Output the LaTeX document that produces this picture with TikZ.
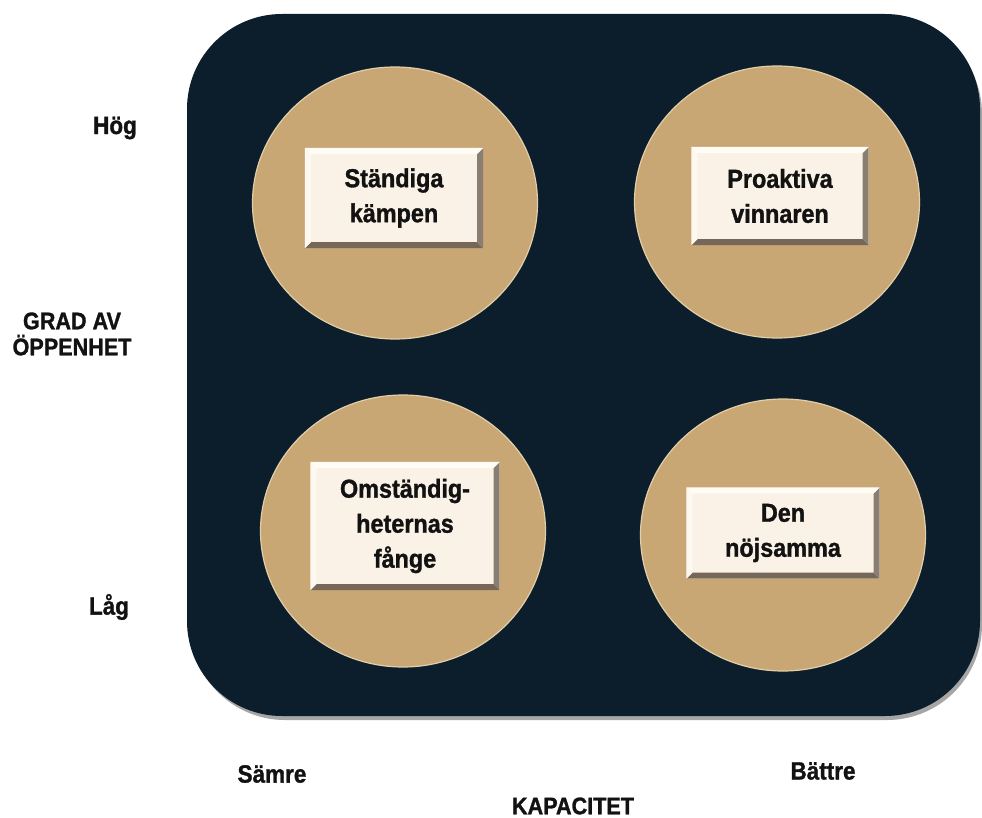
\documentclass[tikz,border=0pt]{standalone}
\usepackage{fontspec}
\setmainfont{Liberation Sans}[FakeStretch=0.9, BoldFeatures={FakeBold=1.2}]
\usetikzlibrary{shapes.geometric}
\definecolor{navy}{RGB}{12,30,44}
\definecolor{tan}{RGB}{201,167,117}
\definecolor{tanrim}{RGB}{226,206,168}
\definecolor{cream}{RGB}{250,242,230}
\definecolor{beveldark}{RGB}{118,103,88}
\definecolor{bevellight}{RGB}{255,252,246}
\definecolor{ink}{RGB}{18,18,18}
\begin{document}
\begin{tikzpicture}[x=1pt,y=-1pt,
  disc/.style={ellipse, fill=tan, draw=tanrim, line width=1.2pt, minimum width=285pt, minimum height=272pt, inner sep=0pt},
  card/.style={rectangle, fill=cream, inner sep=0pt, align=center, text=ink,
    font=\bfseries\fontsize{26}{35}\selectfont},
  axislabel/.style={align=center, text=ink, inner sep=0pt, font=\bfseries\fontsize{24}{26}\selectfont},
  ticklabel/.style={text=ink, inner sep=0pt, font=\bfseries\fontsize{25}{28}\selectfont}]
\useasboundingbox (0,0) rectangle (982,818);
\fill[white] (0,0) rectangle (982,818);
% shadow and panel
\fill[black!35, rounded corners=95pt] (190,19) rectangle (982,720);
\fill[navy, rounded corners=95pt] (187,14) rectangle (980,716);
% discs
\node[disc] (c1) at (395,203) {};
\node[disc] (c2) at (777,202) {};
\node[disc] (c3) at (403,531) {};
\node[disc] (c4) at (783,535) {};
% cards
\node[card, minimum width=178pt, minimum height=100pt] (b1) at (394,198) {Ständiga\\kämpen};
\node[card, minimum width=177pt, minimum height=98pt] (b2) at (780,196) {Proaktiva\\vinnaren};
\node[card, minimum width=189pt, minimum height=128pt] (b3) at (405,526) {Omständig-\\heternas\\fånge};
\node[card, minimum width=193pt, minimum height=91pt] (b4) at (783,533) {Den\\nöjsamma};
% bevels
\foreach \b in {b1,b2,b3,b4}{
  \fill[beveldark] (\b.south west) -- (\b.south east) -- ([xshift=-6pt,yshift=6pt]\b.south east) -- ([xshift=6pt,yshift=6pt]\b.south west) -- cycle;
  \fill[beveldark!85] (\b.north east) -- (\b.south east) -- ([xshift=-6pt,yshift=6pt]\b.south east) -- ([xshift=-6pt,yshift=-6pt]\b.north east) -- cycle;
  \fill[bevellight] (\b.north west) -- (\b.north east) -- ([xshift=-6pt,yshift=-6pt]\b.north east) -- ([xshift=6pt,yshift=-6pt]\b.north west) -- cycle;
  \fill[bevellight!70!cream] (\b.north west) -- (\b.south west) -- ([xshift=6pt,yshift=6pt]\b.south west) -- ([xshift=6pt,yshift=-6pt]\b.north west) -- cycle;
}
% axis labels
\node[ticklabel] (hog) at (115,128) {Hög};
\node[ticklabel] (lag) at (109,607) {Låg};
\node[axislabel] (grad) at (72,334) {GRAD AV\\ÖPPENHET};
\node[ticklabel] (samre) at (272,774) {Sämre};
\node[ticklabel] (battre) at (823,771) {Bättre};
\node[axislabel] (kap) at (573,806) {KAPACITET};
\end{tikzpicture}
\end{document}
